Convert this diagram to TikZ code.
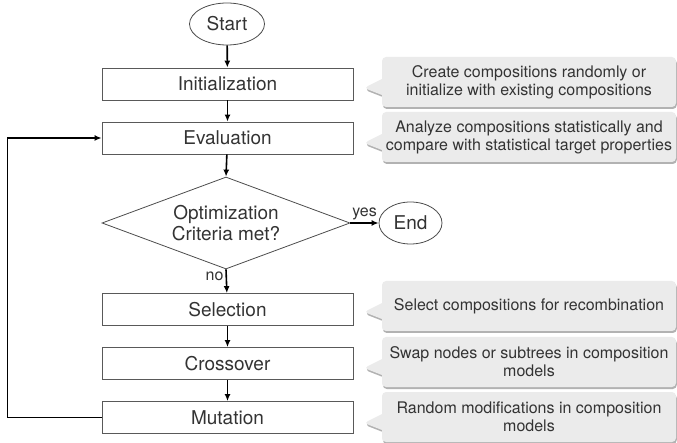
\documentclass[tikz,border=0pt]{standalone}
\usepackage{fontspec}
\setmainfont{TeX Gyre Heros}
\usetikzlibrary{shapes.geometric,shapes.callouts,shadows,arrows.meta}

\tikzset{
  >={Latex[length=7pt,width=6pt]},
  flow/.style={line width=1.6pt,->},
  stepbox/.style={draw=black!65,line width=0.8pt,minimum width=251pt,minimum height=32pt,
    inner sep=0pt,font=\fontsize{19}{22}\selectfont,text=black!80},
  terminal/.style={ellipse,draw=black!70,line width=0.8pt,minimum height=42pt,inner sep=0pt,
    font=\fontsize{19}{22}\selectfont,text=black!80},
  decision/.style={diamond,draw=black!70,line width=0.8pt,minimum width=248pt,minimum height=92pt,
    aspect=2.7,inner sep=0pt,align=center,font=\fontsize{19}{21}\selectfont,text=black!80},
  note/.style={rectangle callout,fill=black!8,rounded corners=4pt,minimum width=294pt,
    minimum height=50pt,align=center,font=\fontsize{16}{18}\selectfont,text=black!80,
    callout pointer width=16pt,
    drop shadow={shadow xshift=0.8pt,shadow yshift=-2pt,fill=black!30,opacity=1}},
  answer/.style={font=\fontsize{16}{18}\selectfont,text=black!80,inner sep=2pt}
}

\begin{document}
\begin{tikzpicture}[x=1pt,y=-1pt]
\useasboundingbox (0,0) rectangle (677,443);

% flow chart
\node [terminal, minimum width=75pt] (start) at (227,24) {Start};
\node [stepbox] (init) at (227.5,84) {Initialization};
\node [stepbox] (eval) at (227.5,138) {Evaluation};
\node [decision] (crit) at (226,223) {Optimization\\Criteria met?};
\node [terminal, minimum width=63pt] (end) at (410.5,223) {End};
\node [stepbox] (sel) at (227.5,309.5) {Selection};
\node [stepbox] (cross) at (227.5,363.5) {Crossover};
\node [stepbox] (mut) at (227.5,417.5) {Mutation};

\draw [flow] (start) -- (init);
\draw [flow] (init) -- (eval);
\draw [flow] (eval) -- (crit.north);
\draw [flow] (crit.east) -- node[answer,above] {yes} (end);
\draw [flow] (crit.south) -- node[answer,left,pos=.3] {no} (sel);
\draw [flow] (sel) -- (cross);
\draw [flow] (cross) -- (mut);
\draw [flow] (mut.west) -- ++(-94,0) |- (eval.west);

% notes
\node [note, callout absolute pointer={(364,88)}] (n1) at (529,82)
  {Create compositions randomly or\\initialize with existing compositions};
\node [note, callout absolute pointer={(364,143)}] (n2) at (529,137)
  {Analyze compositions statistically and\\compare with statistical target properties};
\node [note, callout absolute pointer={(364,312)}] (n3) at (529,306)
  {Select compositions for recombination};
\node [note, callout absolute pointer={(364,368)}] (n4) at (529,362)
  {Swap nodes or subtrees in composition\\models};
\node [note, callout absolute pointer={(364,423)}] (n5) at (529,417)
  {Random modifications in composition\\models};

\end{tikzpicture}
\end{document}
